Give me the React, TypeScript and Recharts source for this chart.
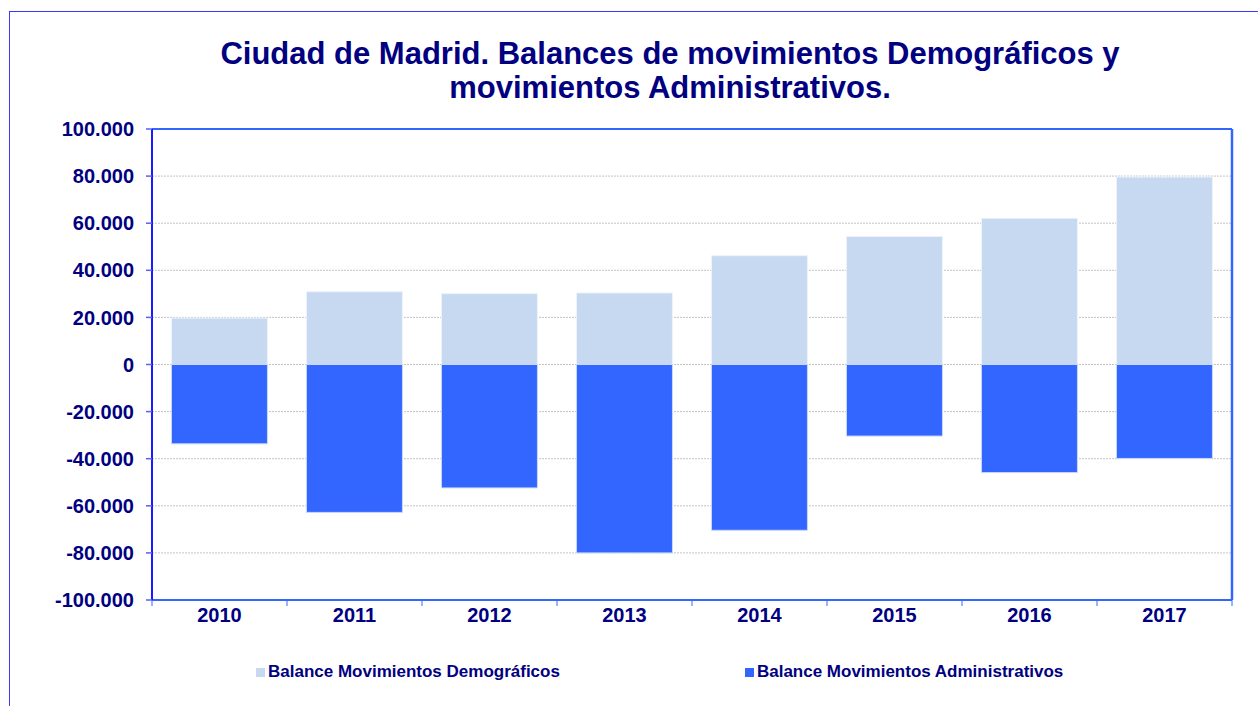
import { BarChart, Bar, CartesianGrid, XAxis, YAxis, ReferenceLine } from "recharts";

const years = ["2010", "2011", "2012", "2013", "2014", "2015", "2016", "2017"];
const demograficos = [19700, 30900, 30100, 30400, 46200, 54400, 62100, 79600];
const administrativos = [-33700, -62800, -52400, -80000, -70400, -30400, -45900, -39900];
const yTicks = [-100000, -80000, -60000, -40000, -20000, 0, 20000, 40000, 60000, 80000, 100000];
const titleLines = [
  "Ciudad de Madrid. Balances de movimientos Demográficos y",
  "movimientos Administrativos.",
];
const seriesNames = ["Balance Movimientos Demográficos", "Balance Movimientos Administrativos"];

const data = years.map((year, i) => ({
  year,
  demograficos: demograficos[i],
  administrativos: administrativos[i],
}));

const NAVY = "#000080";
const FONT = "'Liberation Sans', Arial, sans-serif";
const LIGHT = "#c6d9f0";
const BLUE = "#3366ff";

const fmt = (v: number) =>
  (v < 0 ? "-" : "") + Math.abs(v).toString().replace(/\B(?=(\d{3})+(?!\d))/g, ".");

const tickStyle = { fill: NAVY, fontSize: 20, fontWeight: 700, fontFamily: FONT };

// year label plus the small tick marks that sit on the category boundaries
function YearTick(props: any) {
  const { x, y, payload, index } = props;
  const half = payload && payload.offset ? payload.offset : 67.5;
  const axisY = y - 8;
  const last = index === years.length - 1;
  return (
    <g>
      <line x1={x - half} x2={x - half} y1={axisY} y2={axisY + 6} stroke={BLUE} strokeWidth={1} />
      {last && <line x1={x + half} x2={x + half} y1={axisY} y2={axisY + 6} stroke={BLUE} strokeWidth={1} />}
      <text x={x} y={y} dy="0.71em" textAnchor="middle" {...tickStyle}>
        {payload.value}
      </text>
    </g>
  );
}

export default function App() {
  const colors = [LIGHT, BLUE];
  return (
    <div style={{ position: "absolute", left: 0, top: 0, width: 1258, height: 706, fontFamily: FONT }}>
      <div
        style={{
          position: "absolute",
          left: 9,
          top: 11,
          right: 0,
          bottom: 0,
          borderLeft: "1px solid #3a3aff",
          borderTop: "1px solid #3a3aff",
        }}
      />
      <div
        style={{
          position: "absolute",
          left: 170,
          top: 37,
          width: 1000,
          textAlign: "center",
          color: NAVY,
          fontSize: 31,
          fontWeight: 700,
          lineHeight: "34px",
          whiteSpace: "nowrap",
        }}
      >
        {titleLines.map((t) => (
          <div key={t}>{t}</div>
        ))}
      </div>
      <div style={{ position: "absolute", left: 0, top: 0 }}>
        <BarChart
          width={1258}
          height={706}
          data={data}
          margin={{ top: 129, right: 25, bottom: 76, left: 0 }}
          stackOffset="sign"
          barCategoryGap="14.4%"
        >
          <CartesianGrid vertical={false} stroke="#c4c4c4" strokeDasharray="2 1" />
          <XAxis
            dataKey="year"
            height={30}
            tickLine={false}
            axisLine={{ stroke: BLUE, strokeWidth: 2 }}
            tick={<YearTick />}
            interval={0}
          />
          <YAxis
            width={152}
            domain={[-100000, 100000]}
            ticks={yTicks}
            tickFormatter={fmt}
            tick={tickStyle}
            tickSize={6}
            tickMargin={12}
            interval={0}
            axisLine={{ stroke: "#1a1aff", strokeWidth: 2 }}
            tickLine={{ stroke: "#5c5cff", strokeWidth: 1.5 }}
          />
          <YAxis
            yAxisId="frame"
            orientation="right"
            width={1}
            domain={[-100000, 100000]}
            tick={false}
            tickLine={false}
            axisLine={{ stroke: BLUE, strokeWidth: 2.5 }}
          />
          <ReferenceLine y={100000} stroke={BLUE} strokeWidth={2} />
          <Bar
            dataKey="demograficos"
            name={seriesNames[0]}
            stackId="a"
            fill={LIGHT}
            stroke="#eef3fb"
            strokeWidth={1}
            isAnimationActive={false}
          />
          <Bar
            dataKey="administrativos"
            name={seriesNames[1]}
            stackId="a"
            fill={BLUE}
            stroke="#c8d8ff"
            strokeWidth={1}
            isAnimationActive={false}
          />
        </BarChart>
      </div>
      <div
        style={{
          position: "absolute",
          left: 256,
          top: 663,
          display: "flex",
          gap: 185,
          color: NAVY,
          fontSize: 17,
          fontWeight: 700,
          lineHeight: "18px",
        }}
      >
        {seriesNames.map((name, i) => (
          <div key={name} style={{ display: "flex", alignItems: "center", whiteSpace: "nowrap" }}>
            <span style={{ width: 9, height: 9, background: colors[i], marginRight: 3 }} />
            <span>{name}</span>
          </div>
        ))}
      </div>
    </div>
  );
}
